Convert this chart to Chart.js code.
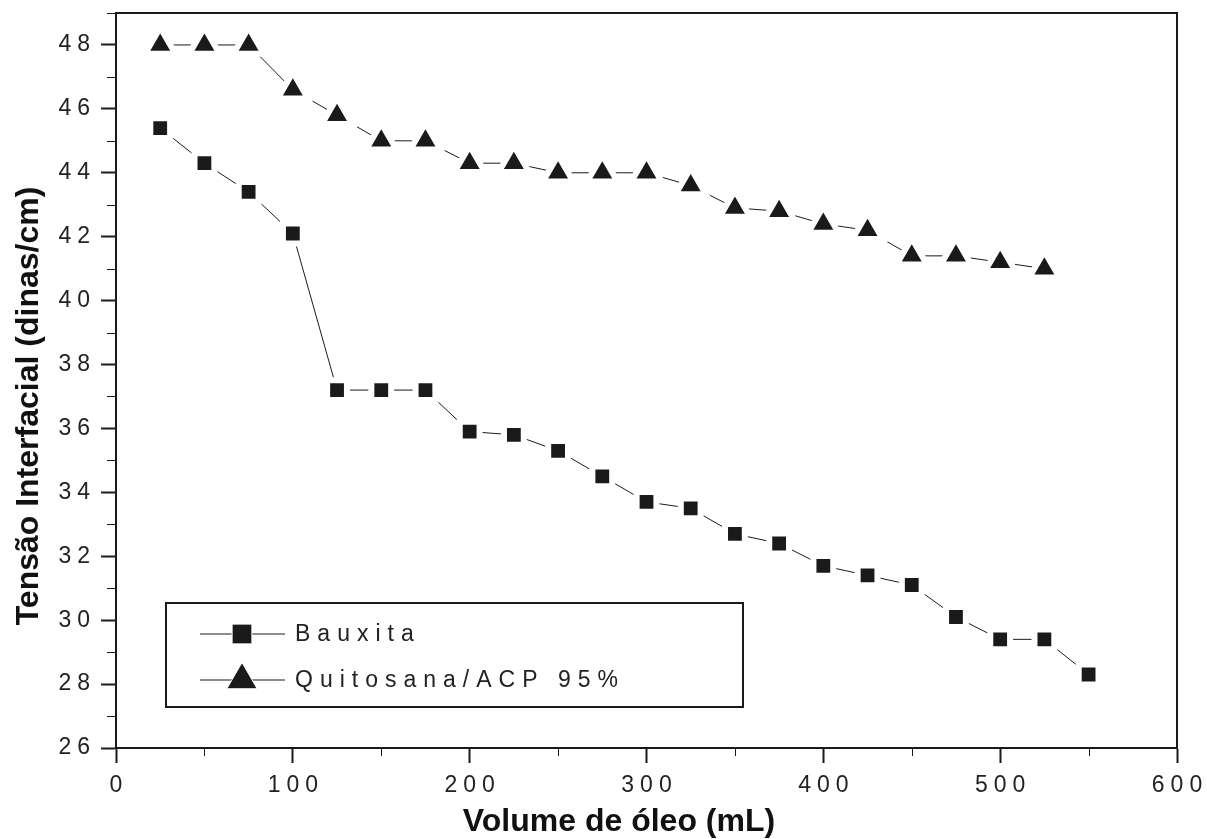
<!DOCTYPE html>
<html>
<head>
<meta charset="utf-8">
<script src="https://cdn.jsdelivr.net/npm/chart.js@4.4.1/dist/chart.umd.min.js"></script>
<style>
  html, body { margin: 0; padding: 0; background: #fff; }
  #wrap { width: 1207px; height: 839px; }
</style>
</head>
<body>
<div id="wrap"><canvas id="tensaoChart"></canvas></div>
<script>
// valores
const volumeBauxita = [25, 50, 75, 100, 125, 150, 175, 200, 225, 250, 275, 300, 325, 350, 375, 400, 425, 450, 475, 500, 525, 550];
const tensaoBauxita = [45.4, 44.3, 43.4, 42.1, 37.2, 37.2, 37.2, 35.9, 35.8, 35.3, 34.5, 33.7, 33.5, 32.7, 32.4, 31.7, 31.4, 31.1, 30.1, 29.4, 29.4, 28.3];
const volumeQuitosana = [25, 50, 75, 100, 125, 150, 175, 200, 225, 250, 275, 300, 325, 350, 375, 400, 425, 450, 475, 500, 525];
const tensaoQuitosana = [48.0, 48.0, 48.0, 46.6, 45.8, 45.0, 45.0, 44.3, 44.3, 44.0, 44.0, 44.0, 43.6, 42.9, 42.8, 42.4, 42.2, 41.4, 41.4, 41.2, 41.0];
const xTickLabels = [0, 100, 200, 300, 400, 500, 600];
const yTickLabels = [26, 28, 30, 32, 34, 36, 38, 40, 42, 44, 46, 48];
const xTitle = 'Volume de óleo (mL)';
const yTitle = 'Tensão Interfacial (dinas/cm)';

const toPoints = (xs, ys) => xs.map((x, i) => ({x: x, y: ys[i]}));
const ink = '#1a1a1a';
const SPACING = '6px';
const FAMILY = '"Liberation Sans", Arial, sans-serif';

// ticks menores, moldura, títulos e legenda no estilo Origin
const originStyle = {
  id: 'originStyle',
  afterDatasetsDraw(chart) {
    chart.ctx.letterSpacing = SPACING;
  },
  afterDraw(chart) {
    const ctx = chart.ctx;
    const a = chart.chartArea;
    const xs = chart.scales.x, ys = chart.scales.y;
    ctx.save();
    ctx.strokeStyle = ink;
    ctx.lineWidth = 1;
    // minor ticks
    xs.ticks.forEach(t => {
      if (xTickLabels.includes(t.value)) return;
      const px = Math.round(xs.getPixelForValue(t.value)) + 0.5;
      ctx.beginPath(); ctx.moveTo(px, a.bottom); ctx.lineTo(px, a.bottom + 8); ctx.stroke();
    });
    ys.ticks.forEach(t => {
      if (yTickLabels.includes(t.value)) return;
      const py = Math.round(ys.getPixelForValue(t.value)) + 0.5;
      ctx.beginPath(); ctx.moveTo(a.left, py); ctx.lineTo(a.left - 9, py); ctx.stroke();
    });
    // top and right frame
    ctx.lineWidth = 2;
    ctx.beginPath();
    ctx.moveTo(a.left, a.top); ctx.lineTo(a.right, a.top); ctx.lineTo(a.right, a.bottom);
    ctx.stroke();

    // axis titles
    ctx.letterSpacing = '0px';
    ctx.fillStyle = '#111';
    ctx.font = 'bold 32px ' + FAMILY;
    ctx.textAlign = 'center';
    ctx.textBaseline = 'middle';
    ctx.fillText(xTitle, a.left + 503, a.bottom + 74);
    ctx.save();
    ctx.translate(a.left - 87, a.top + 393);
    ctx.rotate(-Math.PI / 2);
    ctx.fillText(yTitle, 0, 0);
    ctx.restore();

    // legenda
    const bx = a.left + 50, by = a.bottom - 145, bw = 577, bh = 104;
    ctx.lineWidth = 2;
    ctx.strokeRect(bx, by, bw, bh);
    ctx.font = '23px ' + FAMILY;
    ctx.textAlign = 'left';
    ctx.letterSpacing = '7px';
    chart.data.datasets.forEach((ds, i) => {
      const ry = by + 31 + i * 46;
      ctx.lineWidth = 1;
      ctx.strokeStyle = ink;
      ctx.beginPath(); ctx.moveTo(bx + 34, ry); ctx.lineTo(bx + 119, ry); ctx.stroke();
      ctx.fillStyle = ink;
      ctx.strokeStyle = '#fff';
      Chart.helpers.drawPoint(ctx, {
        pointStyle: ds.pointStyle, radius: ds.pointRadius, borderWidth: ds.pointBorderWidth, rotation: 0
      }, bx + 76, ry);
      ctx.fillStyle = '#222';
      ctx.fillText(ds.label, bx + 129, ry + 1);
    });
    ctx.restore();
    ctx.letterSpacing = '0px';
  }
};

const data = {
  datasets: [{
    label: 'Bauxita',
    data: toPoints(volumeBauxita, tensaoBauxita),
    borderColor: ink,
    borderWidth: 1,
    pointStyle: 'rect',
    pointRadius: 14,
    pointBorderWidth: 6,
    pointBackgroundColor: ink,
    pointBorderColor: '#fff'
  }, {
    label: 'Quitosana/ACP 95%',
    data: toPoints(volumeQuitosana, tensaoQuitosana),
    borderColor: ink,
    borderWidth: 1,
    pointStyle: 'triangle',
    pointRadius: 17.5,
    pointBorderWidth: 6,
    pointBackgroundColor: ink,
    pointBorderColor: '#fff'
  }]
};

const tickFont = {family: FAMILY, size: 23};

const config = {
  type: 'line',
  data,
  options: {
    responsive: true,
    maintainAspectRatio: false,
    animation: false,
    events: [],
    layout: {autoPadding: false, padding: {top: 13, right: 30, bottom: 0, left: 0}},
    plugins: {legend: {display: false}, tooltip: {enabled: false}},
    scales: {
      x: {
        type: 'linear',
        min: 0,
        max: 600,
        afterFit: s => { s.height = 91; s.paddingLeft = 0; s.paddingRight = 0; },
        ticks: {
          stepSize: 50,
          autoSkip: false,
          maxRotation: 0,
          padding: 9,
          labelOffset: 3,
          z: 1,
          color: '#222',
          font: tickFont,
          callback: v => xTickLabels.includes(v) ? v : ''
        },
        grid: {
          drawOnChartArea: false,
          tickLength: 15,
          tickWidth: 2,
          tickColor: c => xTickLabels.includes(c.tick.value) ? ink : 'rgba(0,0,0,0)'
        },
        border: {color: ink, width: 2}
      },
      y: {
        min: 26,
        max: 49,
        afterFit: s => { s.width = 116; s.paddingTop = 0; s.paddingBottom = 0; },
        ticks: {
          stepSize: 1,
          autoSkip: false,
          padding: 5,
          z: 1,
          color: '#222',
          font: tickFont,
          callback: v => yTickLabels.includes(v) ? v : ''
        },
        grid: {
          drawOnChartArea: false,
          tickLength: 15,
          tickWidth: 2,
          tickColor: c => yTickLabels.includes(c.tick.value) ? ink : 'rgba(0,0,0,0)'
        },
        border: {color: ink, width: 2}
      }
    }
  },
  plugins: [originStyle]
};

const tensaoChart = new Chart(document.getElementById('tensaoChart'), config);
</script>
</body>
</html>
